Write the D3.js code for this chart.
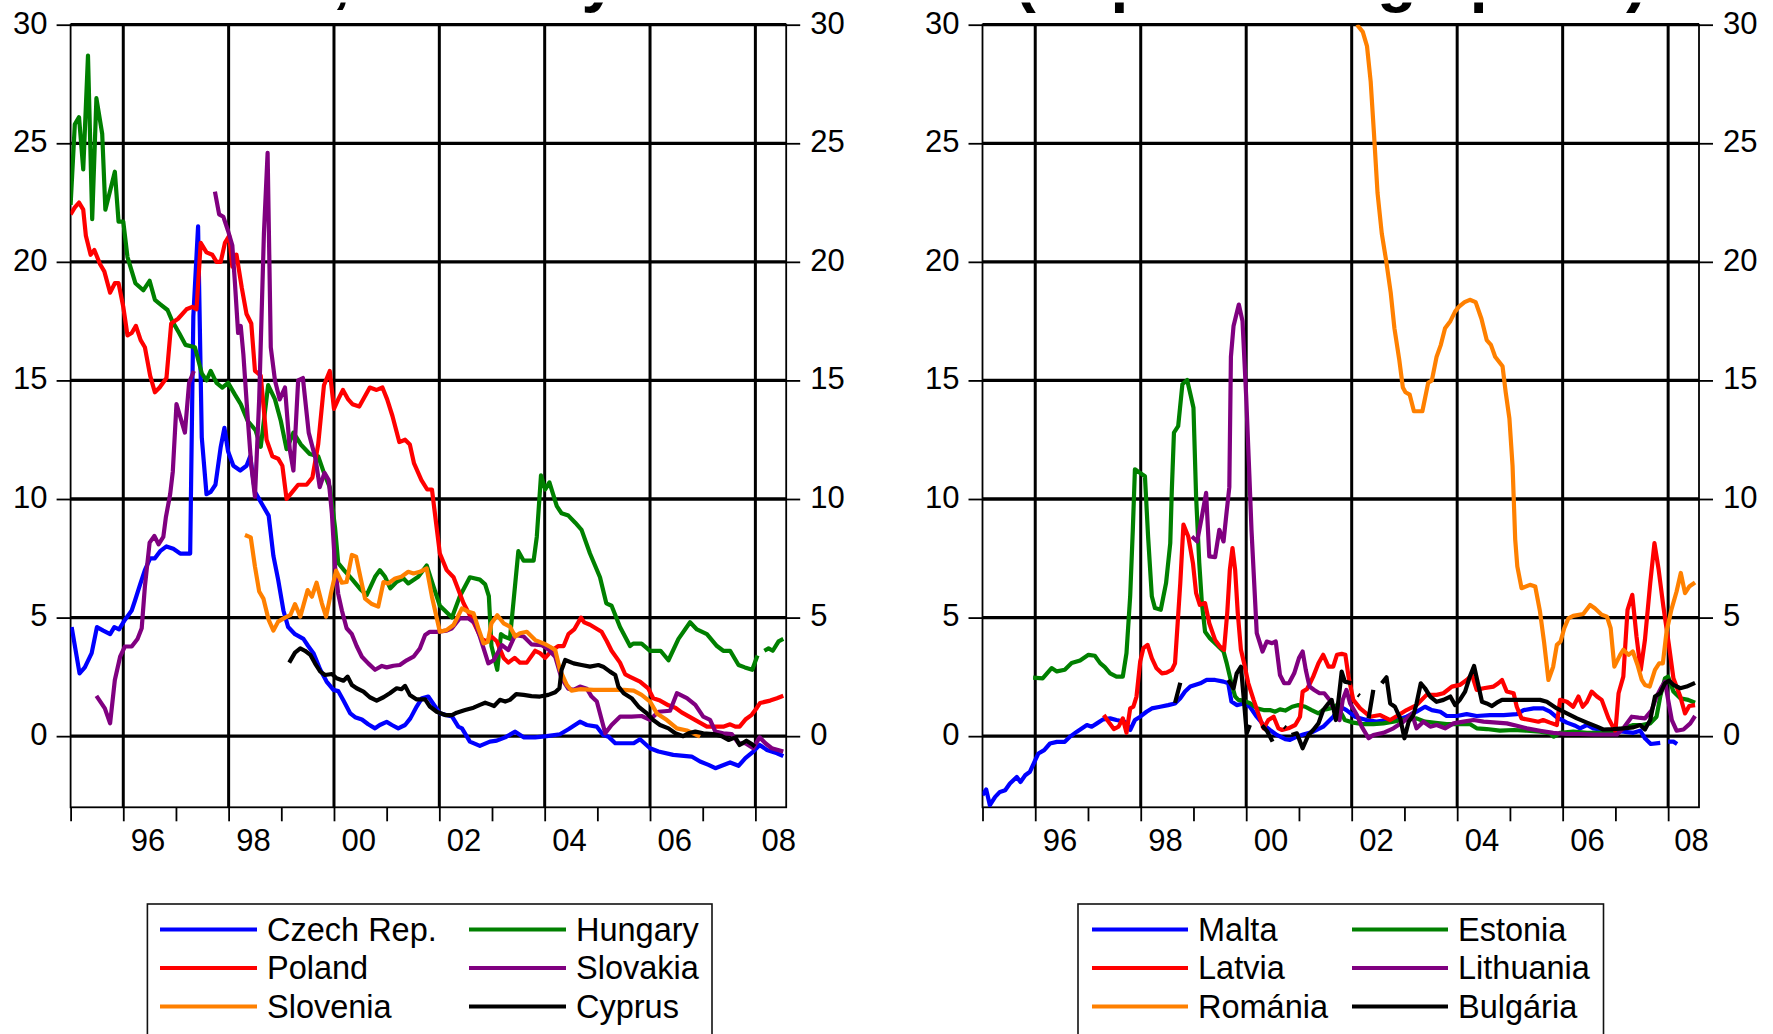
<!DOCTYPE html>
<html><head><meta charset="utf-8">
<script src="https://cdn.jsdelivr.net/npm/d3@7"></script>
<style>body{margin:0;background:#fff}svg{display:block}text{font-family:"Liberation Sans",Arial,Helvetica,sans-serif}</style>
</head><body>
<svg id="chart" width="1773" height="1034"></svg>
<script>
// ---------- DATA (decimal year, % value; null = gap) ----------
const yTickValues = [0,5,10,15,20,25,30];
const yearTicks = [1995,1996,1997,1998,1999,2000,2001,2002,2003,2004,2005,2006,2007,2008];
const gridYears = [1996,1998,2000,2002,2004,2006,2008];
const xTickLabels = ["96","98","00","02","04","06","08"];
const titles = ["in %, monthly","(in percentage point)"];

const czech = [[1995.02,4.6],[1995.17,2.65],[1995.27,2.9],[1995.4,3.5],[1995.5,4.6],[1995.62,4.45],[1995.75,4.3],[1995.83,4.6],[1995.92,4.5],[1996.03,4.9],[1996.16,5.3],[1996.22,5.7],[1996.32,6.4],[1996.41,7.0],[1996.51,7.5],[1996.6,7.5],[1996.7,7.8],[1996.82,8.0],[1996.95,7.9],[1997.08,7.7],[1997.27,7.7],[1997.33,17.7],[1997.42,21.5],[1997.49,12.6],[1997.58,10.2],[1997.66,10.3],[1997.75,10.6],[1997.85,12.2],[1997.92,13.0],[1997.99,12.0],[1998.09,11.4],[1998.22,11.2],[1998.34,11.4],[1998.41,11.8],[1998.5,10.3],[1998.63,9.8],[1998.76,9.3],[1998.85,7.6],[1998.94,6.6],[1999.04,5.3],[1999.13,4.6],[1999.26,4.3],[1999.42,4.1],[1999.51,3.8],[1999.61,3.5],[1999.74,2.8],[1999.86,2.3],[1999.99,1.95],[2000.08,1.9],[2000.18,1.5],[2000.31,0.96],[2000.4,0.8],[2000.53,0.7],[2000.65,0.5],[2000.78,0.33],[2000.87,0.47],[2001.0,0.6],[2001.1,0.47],[2001.22,0.33],[2001.35,0.47],[2001.45,0.75],[2001.57,1.25],[2001.67,1.6],[2001.79,1.67],[2001.92,1.25],[2002.01,0.96],[2002.24,0.83],[2002.36,0.4],[2002.43,0.33],[2002.58,-0.23],[2002.77,-0.41],[2002.96,-0.23],[2003.09,-0.19],[2003.25,-0.05],[2003.44,0.19],[2003.6,-0.05],[2003.82,-0.05],[2004.04,0.0],[2004.29,0.08],[2004.45,0.29],[2004.67,0.61],[2004.8,0.47],[2004.99,0.4],[2005.11,0.05],[2005.21,-0.02],[2005.34,-0.3],[2005.69,-0.3],[2005.81,-0.13],[2006.0,-0.51],[2006.16,-0.65],[2006.44,-0.79],[2006.79,-0.86],[2006.95,-1.07],[2007.11,-1.21],[2007.24,-1.35],[2007.36,-1.25],[2007.52,-1.11],[2007.68,-1.25],[2007.81,-0.93],[2007.96,-0.65],[2008.08,-0.37],[2008.22,-0.58],[2008.41,-0.72],[2008.53,-0.84]];

const poland = [[1995.0,22.0],[1995.08,22.3],[1995.16,22.5],[1995.24,22.2],[1995.29,21.1],[1995.38,20.3],[1995.45,20.5],[1995.56,19.9],[1995.64,19.6],[1995.75,18.7],[1995.84,19.1],[1995.91,19.1],[1996.0,18.1],[1996.08,16.9],[1996.16,17.0],[1996.24,17.3],[1996.33,16.7],[1996.41,16.4],[1996.51,15.2],[1996.6,14.5],[1996.69,14.7],[1996.82,15.1],[1996.91,17.4],[1997.04,17.6],[1997.2,18.0],[1997.31,18.1],[1997.39,18.0],[1997.47,20.8],[1997.58,20.4],[1997.69,20.3],[1997.77,20.0],[1997.85,20.0],[1997.93,20.8],[1998.01,21.1],[1998.07,19.8],[1998.15,20.3],[1998.25,18.9],[1998.34,17.8],[1998.43,17.4],[1998.5,15.4],[1998.61,15.2],[1998.72,12.5],[1998.83,11.8],[1998.94,11.7],[1999.02,11.4],[1999.1,10.0],[1999.21,10.3],[1999.32,10.6],[1999.48,10.6],[1999.59,10.9],[1999.7,12.3],[1999.81,14.8],[1999.92,15.4],[2000.0,13.8],[2000.08,14.2],[2000.17,14.6],[2000.27,14.2],[2000.35,14.0],[2000.48,13.9],[2000.68,14.7],[2000.81,14.6],[2000.92,14.7],[2001.01,14.2],[2001.11,13.5],[2001.24,12.4],[2001.35,12.5],[2001.44,12.3],[2001.52,11.5],[2001.66,10.8],[2001.77,10.4],[2001.86,10.4],[2002.01,7.7],[2002.14,7.0],[2002.27,6.7],[2002.46,5.6],[2002.65,4.8],[2002.8,4.1],[2002.9,4.0],[2002.99,4.2],[2003.09,4.0],[2003.22,3.3],[2003.31,3.1],[2003.43,3.3],[2003.53,3.1],[2003.66,3.1],[2003.82,3.6],[2003.91,3.5],[2004.01,3.3],[2004.13,3.6],[2004.26,3.8],[2004.36,3.8],[2004.45,4.3],[2004.56,4.5],[2004.69,5.0],[2004.75,4.8],[2004.86,4.7],[2005.08,4.4],[2005.18,4.0],[2005.27,3.6],[2005.43,3.1],[2005.53,2.6],[2005.62,2.5],[2005.81,2.3],[2005.97,2.0],[2006.06,1.6],[2006.19,1.5],[2006.35,1.3],[2006.48,1.2],[2006.6,1.0],[2006.76,0.8],[2006.92,0.6],[2007.08,0.4],[2007.27,0.4],[2007.39,0.4],[2007.52,0.5],[2007.62,0.4],[2007.7,0.4],[2007.81,0.7],[2007.93,0.9],[2008.03,1.2],[2008.09,1.4],[2008.28,1.5],[2008.41,1.6],[2008.53,1.7]];

const slovenia = [[1998.31,8.48],[1998.42,8.38],[1998.5,7.15],[1998.58,6.1],[1998.66,5.8],[1998.76,4.9],[1998.85,4.45],[1998.94,4.83],[1999.07,5.0],[1999.17,5.1],[1999.26,5.57],[1999.36,5.04],[1999.5,6.16],[1999.58,5.88],[1999.67,6.47],[1999.77,5.6],[1999.85,5.04],[1999.94,6.0],[2000.04,6.98],[2000.15,6.47],[2000.24,6.5],[2000.34,7.64],[2000.42,7.57],[2000.5,6.72],[2000.59,5.8],[2000.72,5.57],[2000.84,5.46],[2000.94,6.5],[2001.03,6.44],[2001.16,6.65],[2001.28,6.72],[2001.41,6.93],[2001.51,6.86],[2001.63,6.93],[2001.76,7.07],[2001.86,5.88],[2002.01,4.4],[2002.14,4.48],[2002.27,4.69],[2002.43,5.39],[2002.55,5.25],[2002.65,5.18],[2002.74,4.55],[2002.84,3.91],[2002.92,3.98],[2002.99,4.76],[2003.1,5.1],[2003.22,4.76],[2003.34,4.62],[2003.44,4.2],[2003.53,4.34],[2003.66,4.4],[2003.82,4.05],[2003.98,3.91],[2004.1,3.77],[2004.2,3.63],[2004.29,2.79],[2004.42,2.16],[2004.51,1.92],[2004.67,1.98],[2004.93,1.95],[2005.18,1.95],[2005.5,1.95],[2005.69,1.92],[2005.84,1.74],[2006.0,1.46],[2006.13,0.96],[2006.32,0.68],[2006.51,0.33],[2006.7,0.24],[2006.82,0.12],[2006.95,-0.02]];

const hungary = [[1995.0,22.4],[1995.08,25.8],[1995.16,26.1],[1995.24,23.9],[1995.33,28.7],[1995.41,21.8],[1995.49,26.9],[1995.6,25.4],[1995.66,22.2],[1995.84,23.8],[1995.91,21.7],[1996.0,21.7],[1996.08,20.2],[1996.23,19.1],[1996.38,18.8],[1996.5,19.2],[1996.6,18.4],[1996.71,18.2],[1996.84,17.97],[1996.93,17.5],[1997.06,17.0],[1997.18,16.5],[1997.36,16.4],[1997.49,15.3],[1997.58,15.0],[1997.66,15.4],[1997.77,14.9],[1997.88,14.7],[1997.99,14.9],[1998.12,14.4],[1998.23,14.0],[1998.36,13.3],[1998.51,12.9],[1998.61,12.2],[1998.75,14.8],[1998.88,14.2],[1998.99,13.3],[1999.1,12.1],[1999.23,12.8],[1999.37,12.3],[1999.54,11.9],[1999.7,11.8],[1999.81,11.1],[1999.92,10.5],[1999.98,9.5],[2000.02,8.8],[2000.08,7.3],[2000.19,7.0],[2000.35,6.6],[2000.5,6.2],[2000.62,5.95],[2000.78,6.72],[2000.87,7.0],[2000.97,6.72],[2001.07,6.23],[2001.19,6.51],[2001.32,6.65],[2001.41,6.44],[2001.6,6.72],[2001.76,7.2],[2001.89,6.3],[2002.01,5.5],[2002.24,5.0],[2002.39,5.9],[2002.58,6.7],[2002.77,6.6],[2002.87,6.4],[2002.94,5.9],[2002.99,3.8],[2003.1,2.8],[2003.17,4.3],[2003.23,4.2],[2003.34,4.1],[2003.5,7.8],[2003.6,7.4],[2003.79,7.4],[2003.85,8.4],[2003.93,11.0],[2004.01,10.4],[2004.09,10.7],[2004.23,9.7],[2004.32,9.4],[2004.45,9.3],[2004.58,9.0],[2004.7,8.7],[2004.86,7.7],[2005.05,6.7],[2005.17,5.6],[2005.27,5.5],[2005.43,4.6],[2005.62,3.8],[2005.68,3.9],[2005.84,3.9],[2006.0,3.6],[2006.13,3.6],[2006.2,3.6],[2006.35,3.2],[2006.54,4.1],[2006.76,4.8],[2006.89,4.5],[2007.08,4.3],[2007.27,3.8],[2007.39,3.6],[2007.52,3.6],[2007.68,3.0],[2007.8,2.9],[2007.94,2.8],[2008.04,3.4],[2008.1,null],[2008.17,3.6],[2008.25,3.7],[2008.33,3.6],[2008.44,4.0],[2008.53,4.1]];

const slovakia = [[1995.49,1.7],[1995.65,1.17],[1995.75,0.54],[1995.84,2.37],[1995.94,3.35],[1996.03,3.78],[1996.16,3.78],[1996.27,4.1],[1996.35,4.55],[1996.41,6.3],[1996.5,8.16],[1996.59,8.44],[1996.67,8.09],[1996.76,8.4],[1996.81,9.25],[1996.89,10.2],[1996.94,11.15],[1997.01,14.0],[1997.17,12.8],[1997.25,14.9],[1997.34,15.4],[1997.5,null],[1997.74,22.96],[1997.82,22.0],[1997.9,21.9],[1997.99,21.3],[1998.07,20.7],[1998.12,19.1],[1998.18,17.0],[1998.23,17.3],[1998.28,16.1],[1998.36,13.5],[1998.43,11.4],[1998.5,10.1],[1998.58,14.2],[1998.67,21.2],[1998.74,24.6],[1998.8,16.4],[1998.88,15.0],[1998.97,14.2],[1999.07,14.7],[1999.16,12.1],[1999.23,11.2],[1999.32,15.0],[1999.41,15.1],[1999.52,12.8],[1999.65,11.7],[1999.73,10.5],[1999.82,11.1],[1999.9,10.8],[1999.96,9.4],[2000.02,7.15],[2000.08,6.0],[2000.15,5.3],[2000.24,4.55],[2000.34,4.3],[2000.43,3.8],[2000.53,3.35],[2000.65,3.07],[2000.78,2.8],[2000.91,2.96],[2001.0,2.9],[2001.13,2.97],[2001.25,3.0],[2001.38,3.2],[2001.51,3.35],[2001.63,3.7],[2001.73,4.27],[2001.82,4.4],[2001.95,4.4],[2002.14,4.45],[2002.24,4.55],[2002.39,4.97],[2002.55,4.97],[2002.68,4.76],[2002.77,4.2],[2002.93,3.07],[2003.03,3.2],[2003.19,3.84],[2003.31,3.63],[2003.44,4.27],[2003.6,4.2],[2003.75,3.87],[2003.94,3.84],[2004.07,3.66],[2004.2,3.35],[2004.32,2.44],[2004.45,2.0],[2004.55,1.95],[2004.67,2.09],[2004.8,2.0],[2004.89,1.67],[2004.99,1.46],[2005.15,0.12],[2005.27,0.47],[2005.43,0.82],[2005.65,0.82],[2005.84,0.85],[2006.0,0.69],[2006.16,1.03],[2006.38,1.07],[2006.51,1.81],[2006.7,1.6],[2006.86,1.32],[2007.01,0.82],[2007.14,0.69],[2007.24,0.19],[2007.39,0.12],[2007.55,0.09],[2007.68,-0.3],[2007.81,-0.3],[2007.96,-0.51],[2008.08,-0.05],[2008.19,-0.3],[2008.31,-0.51],[2008.53,-0.65]];

const cyprus = [[1999.15,3.1],[1999.26,3.52],[1999.36,3.7],[1999.45,3.6],[1999.55,3.43],[1999.64,3.07],[1999.74,2.72],[1999.83,2.58],[1999.96,2.62],[2000.05,2.44],[2000.18,2.34],[2000.26,2.51],[2000.34,2.16],[2000.43,2.02],[2000.56,1.88],[2000.68,1.64],[2000.81,1.5],[2000.94,1.64],[2001.06,1.81],[2001.19,2.02],[2001.28,1.98],[2001.35,2.12],[2001.44,1.74],[2001.57,1.55],[2001.73,1.55],[2001.82,1.25],[2001.95,1.03],[2002.11,0.89],[2002.24,0.89],[2002.33,0.99],[2002.49,1.1],[2002.65,1.2],[2002.77,1.32],[2002.87,1.41],[2002.96,1.34],[2003.04,1.27],[2003.15,1.53],[2003.25,1.46],[2003.34,1.53],[2003.46,1.77],[2003.6,1.74],[2003.75,1.69],[2003.91,1.67],[2004.07,1.74],[2004.2,1.85],[2004.28,2.02],[2004.32,2.79],[2004.39,3.21],[2004.55,3.07],[2004.7,3.0],[2004.86,2.93],[2005.02,3.0],[2005.11,2.93],[2005.24,2.72],[2005.34,2.58],[2005.4,2.09],[2005.5,1.81],[2005.65,1.6],[2005.78,1.25],[2005.94,0.96],[2006.06,0.68],[2006.19,0.47],[2006.35,0.33],[2006.48,0.12],[2006.63,0.0],[2006.73,0.12],[2006.86,0.19],[2007.01,0.12],[2007.2,0.09],[2007.36,0.0],[2007.49,-0.16],[2007.62,-0.05],[2007.7,-0.37],[2007.83,-0.19],[2007.93,-0.33],[2007.99,-0.44]];

const malta = [[1995.0,-2.49],[1995.07,-2.25],[1995.14,-2.91],[1995.24,-2.56],[1995.33,-2.35],[1995.43,-2.28],[1995.52,-2.0],[1995.65,-1.72],[1995.72,-1.93],[1995.81,-1.65],[1995.9,-1.5],[1996.0,-1.01],[1996.06,-0.73],[1996.17,-0.59],[1996.28,-0.31],[1996.41,-0.24],[1996.56,-0.24],[1996.66,-0.02],[1996.79,0.19],[1996.98,0.47],[1997.07,0.4],[1997.17,0.54],[1997.29,0.71],[1997.42,0.75],[1997.54,0.68],[1997.7,0.61],[1997.8,0.26],[1997.89,0.68],[1997.99,0.82],[1998.11,1.03],[1998.21,1.17],[1998.37,1.24],[1998.52,1.31],[1998.65,1.38],[1998.75,1.6],[1998.84,1.88],[1998.94,2.09],[1999.13,2.23],[1999.25,2.37],[1999.41,2.37],[1999.57,2.3],[1999.66,2.23],[1999.72,1.46],[1999.82,1.31],[1999.95,1.38],[2000.07,1.24],[2000.2,0.82],[2000.33,0.47],[2000.45,0.26],[2000.58,0.05],[2000.74,-0.13],[2000.83,-0.16],[2000.96,-0.02],[2001.08,0.07],[2001.27,0.19],[2001.46,0.4],[2001.65,0.82],[2001.78,1.25],[2001.9,1.1],[2002.06,0.82],[2002.28,0.68],[2002.47,0.61],[2002.66,0.68],[2002.85,0.68],[2003.04,0.82],[2003.23,1.03],[2003.39,1.24],[2003.52,1.1],[2003.68,1.03],[2003.8,0.85],[2003.99,0.85],[2004.18,0.93],[2004.37,0.85],[2004.62,0.89],[2004.88,0.89],[2005.13,0.93],[2005.26,1.1],[2005.45,1.17],[2005.63,1.17],[2005.76,1.03],[2005.89,0.79],[2006.08,0.57],[2006.24,0.44],[2006.33,0.33],[2006.46,0.47],[2006.58,0.33],[2006.77,0.26],[2006.96,0.23],[2007.15,0.19],[2007.34,0.14],[2007.47,0.23],[2007.56,-0.09],[2007.67,-0.33],[2007.85,-0.28],[2007.92,null],[2008.0,-0.23],[2008.1,-0.23],[2008.17,-0.33]];

const latvia = [[1997.3,0.89],[1997.41,0.54],[1997.49,0.3],[1997.58,0.4],[1997.66,0.75],[1997.73,0.14],[1997.8,1.17],[1997.86,1.24],[1997.92,1.67],[1997.99,3.15],[1998.05,3.71],[1998.13,3.85],[1998.21,3.29],[1998.3,2.86],[1998.4,2.65],[1998.49,2.68],[1998.59,2.79],[1998.65,3.07],[1998.7,4.76],[1998.75,6.45],[1998.81,8.92],[1998.9,8.43],[1998.99,7.3],[1999.05,6.03],[1999.12,5.54],[1999.22,5.61],[1999.3,4.76],[1999.41,4.06],[1999.5,3.78],[1999.58,3.64],[1999.64,5.19],[1999.69,7.02],[1999.74,7.93],[1999.79,7.02],[1999.84,5.19],[1999.9,3.64],[1999.96,3.07],[2000.04,2.23],[2000.14,1.53],[2000.25,0.82],[2000.33,0.33],[2000.42,0.68],[2000.52,0.82],[2000.61,0.33],[2000.68,0.26],[2000.8,0.33],[2000.93,0.47],[2001.02,0.82],[2001.07,1.88],[2001.15,1.98],[2001.21,2.23],[2001.27,2.51],[2001.37,3.07],[2001.46,3.43],[2001.56,2.93],[2001.65,2.93],[2001.72,3.43],[2001.81,3.47],[2001.88,3.43],[2001.94,2.51],[2002.03,1.53],[2002.16,1.17],[2002.35,0.82],[2002.54,0.89],[2002.73,0.68],[2002.89,0.89],[2003.04,1.1],[2003.23,1.31],[2003.42,1.74],[2003.61,1.74],[2003.74,1.81],[2003.9,2.09],[2004.05,2.16],[2004.18,2.37],[2004.28,2.58],[2004.37,1.95],[2004.5,2.02],[2004.69,2.09],[2004.78,2.23],[2004.85,2.37],[2004.94,1.88],[2005.07,1.81],[2005.13,1.24],[2005.22,0.75],[2005.38,0.68],[2005.54,0.61],[2005.63,0.68],[2005.76,0.57],[2005.89,0.47],[2005.95,1.53],[2006.08,1.45],[2006.2,1.24],[2006.3,1.67],[2006.38,1.24],[2006.46,1.45],[2006.55,1.88],[2006.65,1.67],[2006.74,1.53],[2006.87,0.75],[2007.0,0.19],[2007.06,1.81],[2007.15,2.51],[2007.23,5.32],[2007.32,5.96],[2007.4,4.2],[2007.48,2.79],[2007.56,4.06],[2007.66,6.45],[2007.74,8.14],[2007.82,7.02],[2007.91,5.46],[2008.01,3.92],[2008.1,2.44],[2008.23,1.67],[2008.32,0.96],[2008.4,1.27],[2008.51,1.31]];

const romania = [[2002.1,30.0],[2002.21,29.7],[2002.29,29.1],[2002.36,27.6],[2002.42,25.5],[2002.49,22.9],[2002.57,21.2],[2002.65,20.1],[2002.74,18.7],[2002.81,17.2],[2002.9,15.9],[2002.97,14.7],[2003.02,14.5],[2003.1,14.4],[2003.18,13.7],[2003.34,13.7],[2003.45,14.9],[2003.52,15.0],[2003.61,16.0],[2003.69,16.5],[2003.77,17.2],[2003.87,17.5],[2003.96,17.9],[2004.03,18.1],[2004.14,18.3],[2004.24,18.4],[2004.35,18.3],[2004.46,17.6],[2004.56,16.7],[2004.64,16.5],[2004.72,16.0],[2004.86,15.6],[2004.92,14.5],[2004.99,13.4],[2005.05,11.4],[2005.1,8.3],[2005.14,7.16],[2005.22,6.24],[2005.38,6.38],[2005.48,6.31],[2005.57,5.26],[2005.65,3.92],[2005.73,2.37],[2005.82,2.93],[2005.89,3.85],[2005.96,3.99],[2006.03,4.55],[2006.11,4.97],[2006.2,5.07],[2006.39,5.15],[2006.52,5.53],[2006.61,5.39],[2006.74,5.12],[2006.84,5.04],[2006.91,4.55],[2006.98,2.93],[2007.09,3.43],[2007.15,3.64],[2007.25,3.43],[2007.33,3.57],[2007.42,3.0],[2007.5,2.37],[2007.56,2.16],[2007.65,2.09],[2007.75,2.79],[2007.83,3.07],[2007.9,3.07],[2007.97,4.41],[2008.06,5.32],[2008.16,6.1],[2008.24,6.88],[2008.32,6.03],[2008.4,6.31],[2008.51,6.48]];

const estonia = [[1995.96,2.47],[1996.14,2.44],[1996.31,2.87],[1996.41,2.73],[1996.56,2.8],[1996.69,3.08],[1996.85,3.19],[1997.01,3.43],[1997.13,3.39],[1997.23,3.08],[1997.32,2.91],[1997.42,2.65],[1997.54,2.51],[1997.66,2.51],[1997.73,3.5],[1997.8,5.9],[1997.85,8.7],[1997.89,11.25],[1997.99,11.1],[1998.08,10.96],[1998.14,8.4],[1998.21,5.9],[1998.27,5.4],[1998.38,5.33],[1998.48,6.45],[1998.56,8.14],[1998.59,10.4],[1998.63,12.8],[1998.71,13.07],[1998.79,14.84],[1998.88,15.02],[1998.95,14.34],[1999.0,13.85],[1999.05,10.1],[1999.11,7.3],[1999.16,5.6],[1999.22,4.4],[1999.31,4.13],[1999.44,3.85],[1999.57,3.57],[1999.63,3.08],[1999.72,2.23],[1999.79,1.67],[1999.85,1.53],[1999.95,1.5],[2000.07,1.39],[2000.2,1.17],[2000.33,1.1],[2000.45,1.1],[2000.55,1.03],[2000.64,1.13],[2000.74,1.08],[2000.87,1.24],[2000.99,1.31],[2001.12,1.24],[2001.24,1.1],[2001.37,0.96],[2001.46,1.1],[2001.59,1.17],[2001.72,1.31],[2001.87,0.68],[2002.03,0.57],[2002.22,0.51],[2002.41,0.51],[2002.6,0.54],[2002.79,0.61],[2002.95,0.68],[2003.04,0.71],[2003.23,0.75],[2003.39,0.61],[2003.55,0.57],[2003.8,0.51],[2003.99,0.51],[2004.24,0.51],[2004.37,0.33],[2004.56,0.3],[2004.81,0.23],[2005.07,0.26],[2005.32,0.23],[2005.57,0.19],[2005.76,0.12],[2005.83,-0.02],[2005.95,0.14],[2006.2,0.19],[2006.46,0.14],[2006.71,0.14],[2006.96,0.19],[2007.15,0.33],[2007.34,0.47],[2007.5,0.47],[2007.66,0.54],[2007.78,0.82],[2007.85,1.67],[2007.94,2.44],[2008.0,2.51],[2008.1,1.88],[2008.23,1.6],[2008.38,1.53],[2008.51,1.41]];

const lithuania = [[1998.97,8.42],[1999.07,8.21],[1999.16,9.27],[1999.24,10.26],[1999.3,7.58],[1999.41,7.55],[1999.49,8.7],[1999.57,8.21],[1999.63,9.48],[1999.68,10.5],[1999.71,16.0],[1999.76,17.3],[1999.86,18.2],[1999.93,17.5],[2000.0,14.3],[2000.06,11.0],[2000.1,8.7],[2000.2,4.34],[2000.31,3.57],[2000.39,3.99],[2000.49,3.92],[2000.56,3.99],[2000.64,2.58],[2000.72,2.23],[2000.81,2.23],[2000.91,2.65],[2001.0,3.29],[2001.07,3.57],[2001.13,2.79],[2001.2,2.09],[2001.29,1.95],[2001.39,1.81],[2001.48,1.81],[2001.58,1.53],[2001.67,1.1],[2001.77,0.68],[2001.83,1.53],[2001.9,1.95],[2001.97,1.38],[2002.1,0.89],[2002.19,0.4],[2002.32,-0.09],[2002.41,0.05],[2002.6,0.14],[2002.79,0.33],[2002.98,0.61],[2003.14,0.96],[2003.23,0.33],[2003.36,0.61],[2003.49,0.4],[2003.61,0.47],[2003.77,0.33],[2003.93,0.54],[2004.12,0.61],[2004.31,0.68],[2004.5,0.61],[2004.75,0.57],[2004.94,0.54],[2005.13,0.44],[2005.32,0.33],[2005.57,0.23],[2005.82,0.14],[2006.08,0.09],[2006.33,0.09],[2006.58,0.07],[2006.84,0.07],[2007.03,0.07],[2007.15,0.33],[2007.31,0.82],[2007.44,0.78],[2007.56,0.75],[2007.69,1.1],[2007.78,1.67],[2007.88,2.09],[2007.94,2.3],[2008.0,1.53],[2008.07,0.68],[2008.16,0.23],[2008.29,0.28],[2008.42,0.54],[2008.51,0.85]];

const bulgaria = [[1998.65,1.4],[1998.75,2.25],[1999.2,null],[1999.66,2.37],[1999.76,2.02],[1999.82,2.65],[1999.9,2.93],[1999.95,1.67],[2000.01,0.12],[2000.07,0.47],[2000.2,null],[2000.3,0.45],[2000.4,0.2],[2000.5,-0.23],[2000.6,null],[2000.72,0.4],[2000.75,0.35],[2000.8,null],[2000.86,0.05],[2000.96,0.12],[2001.07,-0.51],[2001.18,0.05],[2001.27,0.26],[2001.37,0.54],[2001.46,1.1],[2001.56,1.38],[2001.62,1.53],[2001.7,0.68],[2001.75,1.53],[2001.81,2.72],[2001.87,2.3],[2002.0,2.23],[2002.05,null],[2002.12,1.75],[2002.15,1.7],[2002.2,null],[2002.32,0.75],[2002.41,1.95],[2002.5,null],[2002.57,2.23],[2002.66,2.48],[2002.73,1.38],[2002.82,1.24],[2002.92,0.75],[2003.0,-0.09],[2003.08,0.61],[2003.17,0.89],[2003.23,1.38],[2003.31,2.23],[2003.39,2.02],[2003.49,1.67],[2003.61,1.45],[2003.74,1.53],[2003.87,1.67],[2003.96,1.31],[2004.05,1.53],[2004.15,1.88],[2004.24,2.51],[2004.32,2.96],[2004.4,2.16],[2004.47,1.45],[2004.56,1.38],[2004.66,1.27],[2004.75,1.41],[2004.85,1.53],[2005.07,1.53],[2005.32,1.53],[2005.57,1.53],[2005.7,1.45],[2005.89,1.17],[2006.08,0.96],[2006.27,0.75],[2006.46,0.57],[2006.65,0.4],[2006.77,0.28],[2006.96,0.3],[2007.15,0.33],[2007.34,0.37],[2007.47,0.47],[2007.56,0.28],[2007.66,0.68],[2007.75,1.67],[2007.85,1.81],[2007.94,2.23],[2008.02,2.34],[2008.1,2.16],[2008.23,2.02],[2008.35,2.09],[2008.51,2.25]];

const leftNames = ["Czech Rep.","Hungary","Poland","Slovakia","Slovenia","Cyprus"];
const leftData = [czech,hungary,poland,slovakia,slovenia,cyprus];
const rightNames = ["Malta","Estonia","Latvia","Lithuania","Románia","Bulgária"];
const rightData = [malta,estonia,latvia,lithuania,romania,bulgaria];
const colors = ["#0000FF","#008000","#FF0000","#800080","#FF8000","#000000"];

// ---------- LAYOUT ----------
const svg = d3.select("#chart");
const yTop = 24.7, yBot = 807.3;
const y = d3.scaleLinear().domain([-3,30]).range([yBot,yTop]);
const panels = [
  {x0:70.6, x1:786.2, names:leftNames, data:leftData, title:titles[0], titleX:201,
   leg:{x:147.4, w:564.6, c:[160,469], len:97}},
  {x0:982.5, x1:1699, names:rightNames, data:rightData, title:titles[1], titleX:1014.5,
   leg:{x:1078, w:525.5, c:[1092,1352], len:96}}
];
const FONT = '"Liberation Sans",Arial,Helvetica,sans-serif';

// the titles sit above the picture: only their descenders are visible
svg.append("clipPath").attr("id","titleClip").append("rect")
  .attr("x",0).attr("y",2.5).attr("width",1773).attr("height",30);
const titleG = svg.append("g").attr("clip-path","url(#titleClip)");

panels.forEach((p,pi)=>{
  const x = d3.scaleLinear().domain([1995,2008.585]).range([p.x0,p.x1]);
  const g = svg.append("g");

  titleG.append("text").attr("x",p.titleX).attr("y",-0.5)
    .attr("font-size",64).attr("font-weight","bold").attr("fill","#000")
    .text(p.title);

  // gridlines
  g.selectAll(".hg").data(yTickValues).join("line")
    .attr("x1",p.x0).attr("x2",p.x1).attr("y1",d=>y(d)).attr("y2",d=>y(d))
    .attr("stroke","#000").attr("stroke-width",3.3);
  g.selectAll(".vg").data(gridYears).join("line")
    .attr("x1",d=>x(d)).attr("x2",d=>x(d)).attr("y1",yTop).attr("y2",yBot)
    .attr("stroke","#000").attr("stroke-width",3.0);
  // frame
  g.append("rect").attr("x",p.x0).attr("y",yTop).attr("width",p.x1-p.x0).attr("height",yBot-yTop)
    .attr("fill","none").attr("stroke","#000").attr("stroke-width",1.8);

  // clip
  const cid = "clip"+pi;
  svg.append("clipPath").attr("id",cid).append("rect")
    .attr("x",p.x0).attr("y",yTop).attr("width",p.x1-p.x0).attr("height",yBot-yTop);

  const line = d3.line().defined(d=>d[1]!==null).x(d=>x(d[0])).y(d=>y(d[1]));
  const lg = svg.append("g").attr("clip-path",`url(#${cid})`);
  p.data.forEach((s,i)=>{
    lg.append("path").attr("d",line(s)).attr("fill","none")
      .attr("stroke",colors[i]).attr("stroke-width",4.2)
      .attr("stroke-linejoin","round").attr("stroke-linecap","butt");
  });

  // axes
  const yl = svg.append("g").attr("transform",`translate(${p.x0},0)`)
    .call(d3.axisLeft(y).tickValues(yTickValues).tickSize(14).tickPadding(9).tickFormat(d3.format("d")));
  const yr = svg.append("g").attr("transform",`translate(${p.x1},0)`)
    .call(d3.axisRight(y).tickValues(yTickValues).tickSize(14).tickPadding(10).tickFormat(d3.format("d")));
  const xb = svg.append("g").attr("transform",`translate(0,${yBot})`)
    .call(d3.axisBottom(x).tickValues(yearTicks).tickSize(14).tickFormat(""));
  [yl,yr,xb].forEach(a=>{
    a.select(".domain").remove();
    a.selectAll(".tick line").attr("stroke","#000").attr("stroke-width",1.8);
    a.selectAll("text").attr("font-size",31).attr("font-family",FONT).attr("fill","#000");
  });
  [yl,yr].forEach(a=>a.selectAll("text").attr("dy","0.27em"));

  // x labels, centred within the first year of each 2-year block
  svg.append("g").selectAll("text").data(gridYears).join("text")
    .attr("x",(d,i)=>x(d + (i===gridYears.length-1 ? 0.445 : 0.47)))
    .attr("y",851).attr("text-anchor","middle")
    .attr("font-size",31).attr("fill","#000")
    .text((d,i)=>xTickLabels[i]);

  // legend
  const L = p.leg;
  svg.append("rect").attr("x",L.x).attr("y",904).attr("width",L.w).attr("height",200)
    .attr("fill","#fff").attr("stroke","#111").attr("stroke-width",1.6);
  const rowY = [929.5,968,1006.5];
  // legend order: column 1 = series 0,2,4 ; column 2 = series 1,3,5
  p.names.forEach((n,i)=>{
    const col = i%2, row = Math.floor(i/2);
    const lx = L.c[col], ly = rowY[row];
    svg.append("line").attr("x1",lx).attr("x2",lx+L.len).attr("y1",ly).attr("y2",ly)
      .attr("stroke",colors[i]).attr("stroke-width",4.2);
    svg.append("text").attr("x",lx+L.len+10).attr("y",ly+11)
      .attr("font-size",32.5).attr("fill","#000").text(n);
  });
});
</script>
</body></html>
